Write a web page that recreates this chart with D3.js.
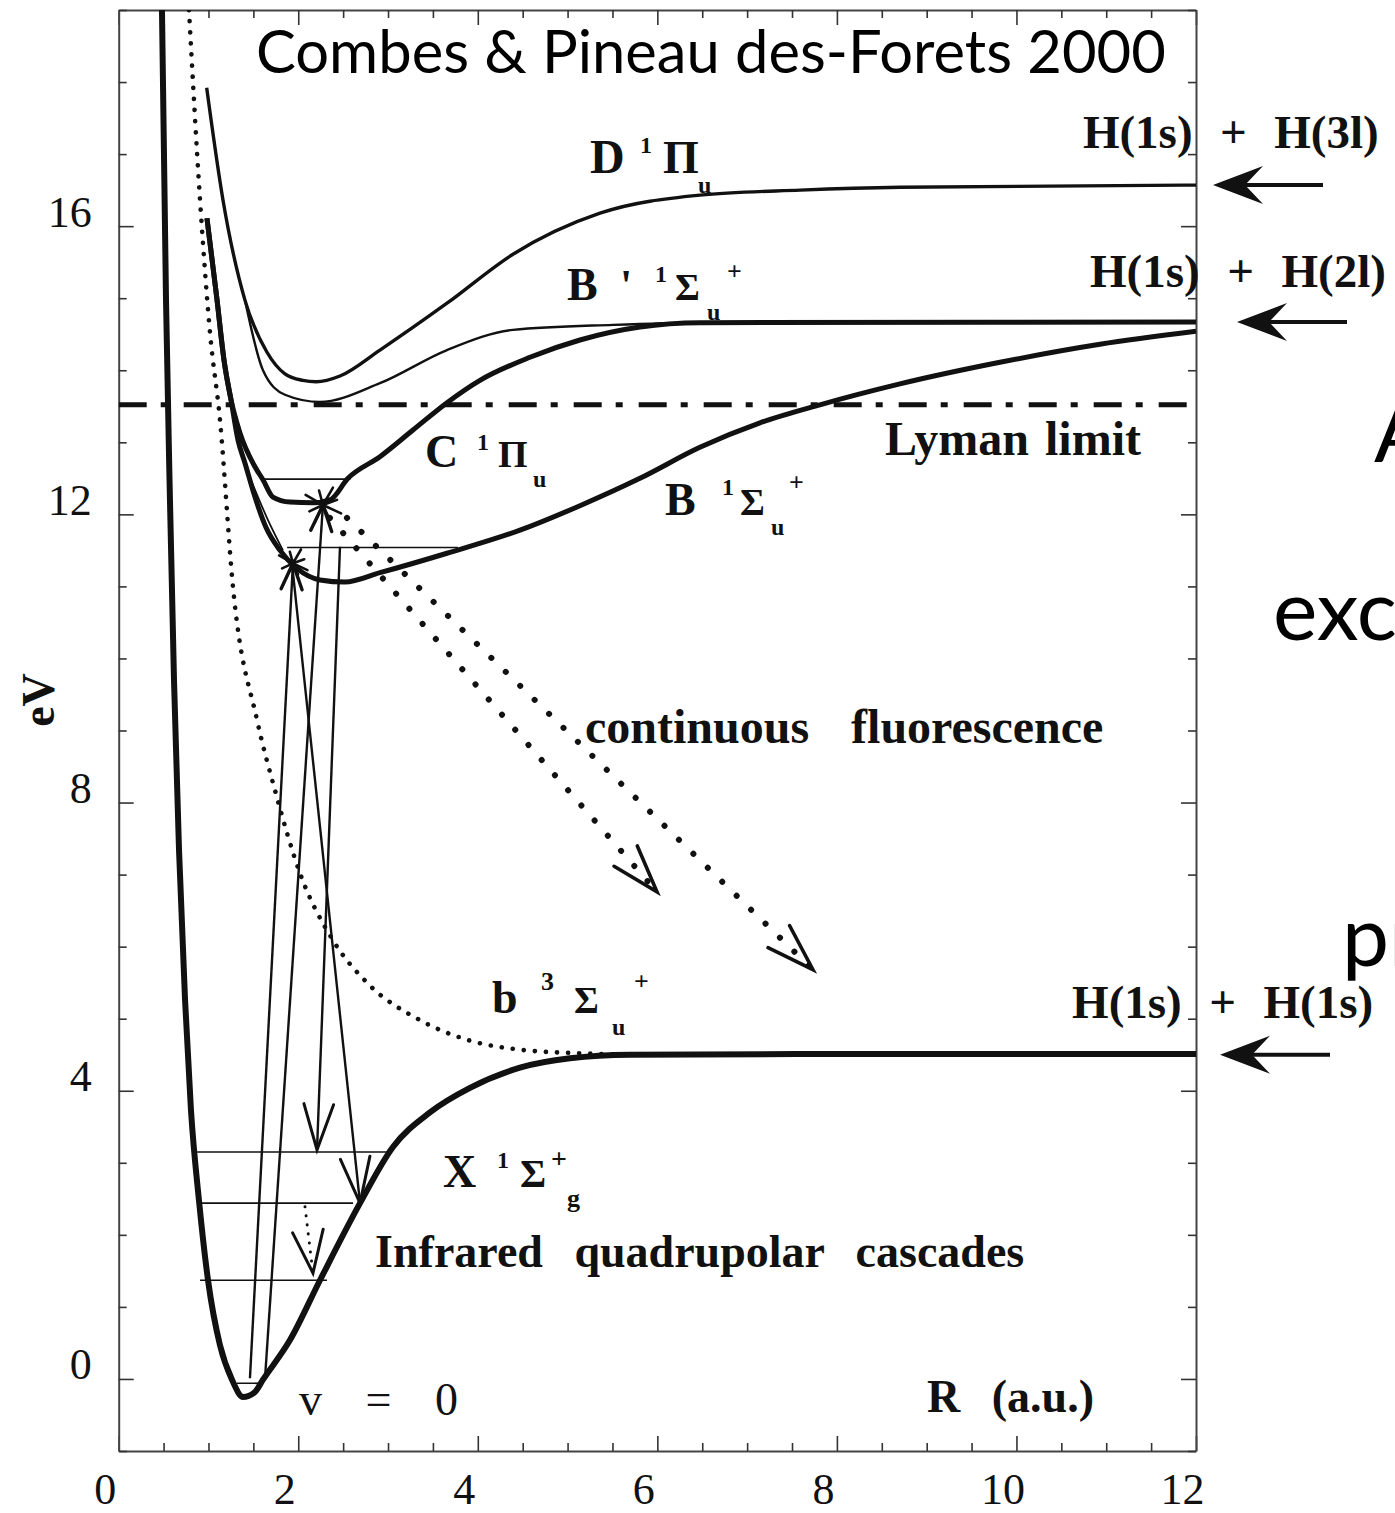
<!DOCTYPE html>
<html>
<head>
<meta charset="utf-8">
<script src="https://cdn.jsdelivr.net/npm/d3@7"></script>
<style>
  html, body { margin: 0; padding: 0; background: #fff; overflow: hidden; }
  svg { display: block; }
</style>
</head>
<body>
<svg id="chart" width="1395" height="1513"></svg>
<script>
// ---- axis ranges and ticks ----
const xDomain = [0, 12];
const yDomain = [-1, 19];
const xMajorTicks = [0, 2, 4, 6, 8, 10, 12];
const yMajorTicks = [0, 4, 8, 12, 16];

// ---- potential energy curves of H2, [R (a.u.), E (eV)] ----
const stateX = [[0.482,19.0],[0.527,14.98],[0.571,12.2],[0.616,9.7],[0.672,7.34],[0.739,5.26],[0.805,3.73],[0.894,2.48],[0.995,1.37],[1.128,0.47],[1.262,-0.01],[1.385,-0.25],[1.518,-0.18],[1.607,-0.01],[1.908,0.54],[2.242,1.37],[2.688,2.44],[3.055,3.22],[3.467,3.7],[3.913,4.04],[4.47,4.32],[5.027,4.45],[5.695,4.5],[7.6,4.51],[12,4.51]];
const stateTriplet = [[0.783,19.0],[0.906,16.36],[1.017,14.52],[1.128,13.31],[1.273,10.99],[1.54,9.15],[1.741,8.17],[2.019,7.02],[2.386,6.09],[2.766,5.5],[3.356,4.98],[3.902,4.7],[4.47,4.57],[5.149,4.52],[5.918,4.5]];
const stateD = [[0.98,17.92],[1.162,16.36],[1.407,14.97],[1.652,14.25],[1.852,13.95],[2.05,13.86],[2.2,13.84],[2.465,13.92],[2.91,14.28],[3.657,14.93],[4.392,15.61],[5.361,16.18],[6.474,16.43],[7.59,16.5],[8.704,16.54],[12,16.57]];
const stateBprime = [[1.407,14.97],[1.607,14.0],[1.852,13.66],[2.242,13.56],[2.91,13.82],[3.657,14.28],[4.392,14.56],[5.506,14.63],[6.474,14.66],[12,14.67]];
const stateC = [[0.983,16.11],[1.095,14.98],[1.173,14.14],[1.251,13.59],[1.351,13.13],[1.518,12.66],[1.607,12.48],[1.718,12.24],[1.908,12.17],[2.164,12.16],[2.353,12.2],[2.554,12.5],[2.91,12.8],[3.278,13.17],[3.657,13.55],[4.024,13.86],[4.581,14.18],[5.138,14.42],[5.806,14.6],[6.474,14.66],[12,14.67]];
const stateB = [[0.983,16.11],[1.095,14.98],[1.173,14.14],[1.251,13.59],[1.329,13.03],[1.407,12.71],[1.518,12.24],[1.64,11.82],[1.797,11.5],[1.986,11.25],[2.242,11.09],[2.52,11.06],[2.91,11.19],[3.657,11.46],[4.47,11.78],[5.138,12.12],[5.806,12.5],[6.474,12.93],[7.143,13.27],[7.811,13.52],[8.702,13.81],[9.816,14.11],[10.93,14.36],[12,14.54]];
// thin inner branch between the B and C walls
const innerBranch = [[1.385,12.75],[1.518,12.34],[1.663,11.92],[1.83,11.5]];

// ionisation threshold (eV)
const lymanLimit = 13.52;

// vibrational levels: [E, R from, R to]
const levelsX = [[3.15,0.874,2.99],[2.44,0.906,2.61],[1.37,0.906,2.32],[-0.06,1.318,1.563]];
const levelsC = [[12.49,1.596,2.581]];
const levelsB = [[11.54,1.876,3.778]];

// radiative transitions: [from, to] in [R, E]
const absorptions = [[[1.462,0.01],[1.941,11.32]],[[1.63,0.01],[2.275,12.13]]];
const emissions = [[[1.93,11.32],[2.688,2.44]],[[2.465,11.55],[2.209,3.18]]];
const cascades = [[[2.075,2.39],[2.164,1.47]]];
const fluorescence = [[[2.353,11.95],[5.996,6.76]],[[2.543,11.95],[7.733,5.68]]];

// dissociation limits (eV) and their product labels
const limitEnergies = [16.57, 14.67, 4.5];
const limitLabels = ["H(1s)  +  H(3l)", "H(1s)  +  H(2l)", "H(1s)  +  H(1s)"];

// ---- drawing ----
const W = 1395, H = 1513;
const svg = d3.select("#chart");
const x = d3.scaleLinear().domain(xDomain).range([118.7, 1196]);
const y = d3.scaleLinear().domain(yDomain).range([1451, 10]);
const serif = "'Liberation Serif', 'Times New Roman', serif";
const sans = "Lato, 'Open Sans', sans-serif";
const ink = "#111";

svg.append("rect").attr("width", W).attr("height", H).attr("fill", "#fff");

svg.append("defs").append("clipPath").attr("id", "plotClip")
  .append("rect")
  .attr("x", x(0)).attr("y", y(19))
  .attr("width", x(12) - x(0)).attr("height", y(-1) - y(19));

// axes on all four sides, ticks pointing inward
const xMinor = d3.range(0, 12.001, 0.5).filter(v => v % 2 !== 0);
const yMinor = d3.range(-1, 19.001, 1).filter(v => v % 4 !== 0);

function styleAxis(g) {
  g.selectAll(".domain").attr("stroke", "#444").attr("stroke-width", 2);
  g.selectAll(".tick line").attr("stroke", "#333").attr("stroke-width", 1.6);
}

const axes = svg.append("g");
// bottom
axes.append("g").attr("transform", `translate(0,${y(-1)})`)
  .call(d3.axisBottom(x).tickValues(xMajorTicks).tickSize(-15).tickSizeOuter(0).tickPadding(22))
  .call(styleAxis)
  .call(g => g.selectAll("text").attr("dx", -14).attr("font-family", serif).attr("font-size", 44).attr("fill", ink));
axes.append("g").attr("transform", `translate(0,${y(-1)})`)
  .call(d3.axisBottom(x).tickValues(xMinor).tickSize(-8).tickFormat(""))
  .call(styleAxis).call(g => g.select(".domain").remove());
// top
axes.append("g").attr("transform", `translate(0,${y(19)})`)
  .call(d3.axisTop(x).tickValues(xMajorTicks).tickSize(-15).tickSizeOuter(0).tickFormat(""))
  .call(styleAxis);
axes.append("g").attr("transform", `translate(0,${y(19)})`)
  .call(d3.axisTop(x).tickValues(xMinor).tickSize(-8).tickFormat(""))
  .call(styleAxis).call(g => g.select(".domain").remove());
// left
axes.append("g").attr("transform", `translate(${x(0)},0)`)
  .call(d3.axisLeft(y).tickValues(yMajorTicks).tickSize(-15).tickSizeOuter(0).tickPadding(27))
  .call(styleAxis)
  .call(g => g.selectAll("text").attr("dy", 0).attr("font-family", serif).attr("font-size", 44).attr("fill", ink));
axes.append("g").attr("transform", `translate(${x(0)},0)`)
  .call(d3.axisLeft(y).tickValues(yMinor).tickSize(-8).tickFormat(""))
  .call(styleAxis).call(g => g.select(".domain").remove());
// right
axes.append("g").attr("transform", `translate(${x(12)},0)`)
  .call(d3.axisRight(y).tickValues(yMajorTicks).tickSize(-15).tickSizeOuter(0).tickFormat(""))
  .call(styleAxis);
axes.append("g").attr("transform", `translate(${x(12)},0)`)
  .call(d3.axisRight(y).tickValues(yMinor).tickSize(-8).tickFormat(""))
  .call(styleAxis).call(g => g.select(".domain").remove());

// curves
const plot = svg.append("g").attr("clip-path", "url(#plotClip)");
const line = d3.line().x(d => x(d[0])).y(d => y(d[1])).curve(d3.curveMonotoneX);

plot.append("line")
  .attr("x1", x(0)).attr("x2", x(12))
  .attr("y1", y(lymanLimit)).attr("y2", y(lymanLimit))
  .attr("stroke", ink).attr("stroke-width", 5)
  .attr("stroke-dasharray", "28,14,7,16");

const curves = [
  { pts: stateTriplet, w: 4.6, dash: "0.1,11", cap: "round" },
  { pts: innerBranch, w: 1.8 },
  { pts: stateD, w: 3.4 },
  { pts: stateBprime, w: 2.4 },
  { pts: stateC, w: 5 },
  { pts: stateB, w: 5 },
  { pts: stateX, w: 6 }
];
curves.forEach(c => {
  plot.append("path").attr("d", line(c.pts))
    .attr("fill", "none").attr("stroke", ink)
    .attr("stroke-width", c.w)
    .attr("stroke-linecap", c.cap || "butt")
    .attr("stroke-linejoin", "round")
    .attr("stroke-dasharray", c.dash || null);
});

// vibrational levels
[...levelsX, ...levelsC, ...levelsB].forEach(([E, r0, r1]) => {
  plot.append("line")
    .attr("x1", x(r0)).attr("x2", x(r1)).attr("y1", y(E)).attr("y2", y(E))
    .attr("stroke", ink).attr("stroke-width", 1.7);
});

// open arrowhead at the end of a segment
function vHead(g, from, to, len, deg, w) {
  const x1 = x(from[0]), y1 = y(from[1]), x2 = x(to[0]), y2 = y(to[1]);
  const a = Math.atan2(y1 - y2, x1 - x2), t = deg * Math.PI / 180;
  g.append("path")
    .attr("d", `M${x2 + len * Math.cos(a + t)},${y2 + len * Math.sin(a + t)}L${x2},${y2}L${x2 + len * Math.cos(a - t)},${y2 + len * Math.sin(a - t)}`)
    .attr("fill", "none").attr("stroke", ink).attr("stroke-width", w)
    .attr("stroke-linejoin", "miter").attr("stroke-linecap", "round");
}
function segment(g, s, w, dash) {
  g.append("line")
    .attr("x1", x(s[0][0])).attr("y1", y(s[0][1]))
    .attr("x2", x(s[1][0])).attr("y2", y(s[1][1]))
    .attr("stroke", ink).attr("stroke-width", w)
    .attr("stroke-dasharray", dash || null)
    .attr("stroke-linecap", dash ? "round" : "butt");
}
// small burst of rays around the upper end of an absorption
function burst(g, p, r) {
  const cx = x(p[0]), cy = y(p[1]);
  [-150, -105, -60, -20, 25, 65, 115, 155].forEach((deg, i) => {
    const a = deg * Math.PI / 180, rr = r * (i % 2 ? 0.75 : 1);
    g.append("line").attr("x1", cx).attr("y1", cy)
      .attr("x2", cx + rr * Math.cos(a)).attr("y2", cy + rr * Math.sin(a))
      .attr("stroke", ink).attr("stroke-width", 2.6).attr("stroke-linecap", "round");
  });
}

absorptions.forEach((s, i) => {
  segment(plot, s, 2.4);
  vHead(plot, s[0], s[1], 28, 22, 3.4);
  burst(plot, s[1], i === 0 ? 16 : 20);
});
emissions.forEach(s => { segment(plot, s, 2.4); vHead(plot, s[0], s[1], 48, 18, 3); });
cascades.forEach(s => { segment(plot, s, 3, "0.1,9"); vHead(plot, s[0], s[1], 45, 20, 3); });
fluorescence.forEach(s => { segment(plot, s, 6, "0.1,20"); vHead(plot, s[0], s[1], 50, 18, 3.6); });

// ---- text ----
const txt = svg.append("g").attr("fill", ink);

function stateLabel(px, py, parts) {
  const g = txt.append("g").attr("transform", `translate(${px},${py})`)
    .attr("font-family", serif).attr("font-weight", "bold");
  parts.forEach(([t, dx, dy, fs]) => {
    g.append("text").attr("x", dx).attr("y", dy).attr("font-size", fs).text(t);
  });
}
stateLabel(x(5.251), y(16.74), [["D",0,0,48],["1",50,-20,24],["Π",73,0,46],["u",108,20,24]]);
stateLabel(x(4.993), y(14.98), [["B",0,0,46],["'",53,0,44],["1",88,-18,24],["Σ",108,0,38],["u",140,20,24],["+",160,-20,26]]);
stateLabel(x(3.411), y(12.66), [["C",0,0,46],["1",52,-17,24],["Π",73,0,38],["u",108,20,24]]);
stateLabel(x(6.085), y(11.99), [["B",0,0,46],["1",57,-20,24],["Σ",75,0,38],["u",106,20,24],["+",124,-24,26]]);
stateLabel(x(4.158), y(5.08), [["b",0,0,46],["3",49,-23,26],["Σ",82,0,38],["u",120,22,24],["+",142,-23,26]]);
stateLabel(x(3.612), y(2.66), [["X",0,0,46],["1",54,-19,24],["Σ",77,0,40],["+",108,-19,28],["g",124,20,26]]);

function plainLabel(px, py, t, fs, ws, bold) {
  return txt.append("text").attr("x", px).attr("y", py)
    .attr("font-family", serif).attr("font-size", fs)
    .attr("font-weight", bold === false ? "normal" : "bold")
    .attr("xml:space", "preserve").style("white-space", "pre")
    .attr("word-spacing", ws).style("word-spacing", ws + "px")
    .text(t);
}
plainLabel(x(8.535), y(12.82), "Lyman limit", 48, 4);
plainLabel(x(5.194), y(8.83), "continuous fluorescence", 48, 30);
plainLabel(x(2.856), y(1.55), "Infrared quadrupolar cascades", 46, 20);
plainLabel(x(9.004), y(-0.46), "R (a.u.)", 46, 20);
plainLabel(x(2.008), y(-0.5), "v = 0", 46, 32, false);

// axis title
txt.append("text")
  .attr("transform", `translate(${54},${700}) rotate(-90)`)
  .attr("text-anchor", "middle")
  .attr("font-family", serif).attr("font-size", 46).attr("font-weight", "bold")
  .text("eV");

// dissociation limits beyond the right edge
const limitLabelR = [10.74, 10.82, 10.62];
const limitLabelDy = [-37, -35, -37];
const limitArrowGap = [17, 41, 24];
limitEnergies.forEach((E, i) => {
  plainLabel(x(limitLabelR[i]), y(E) + limitLabelDy[i], limitLabels[i], 47, 2);
  const tipX = x(12) + limitArrowGap[i];
  const yy = y(E);
  svg.append("line").attr("x1", tipX + 25).attr("x2", tipX + 110)
    .attr("y1", yy).attr("y2", yy).attr("stroke", ink).attr("stroke-width", 4);
  svg.append("path")
    .attr("d", `M${tipX},${yy}L${tipX + 50},${yy - 19}L${tipX + 32},${yy}L${tipX + 50},${yy + 19}Z`)
    .attr("fill", ink);
});

// citation and slide text
const ref = svg.append("text").attr("x", 256).attr("y", 73)
  .attr("font-family", sans).attr("font-size", 60).attr("fill", "#000")
  .text("Combes & Pineau des-Forets 2000");
const refW = ref.node().getComputedTextLength();
ref.attr("font-size", 60 * 910 / refW);

const side = [["A", 1374, 462], ["exc", 1273, 640], ["pr", 1342, 966]];
side.forEach(([t, px, py]) => {
  svg.append("text").attr("x", px).attr("y", py)
    .attr("font-family", sans).attr("font-size", 84).attr("fill", "#000").text(t);
});
</script>
</body>
</html>
